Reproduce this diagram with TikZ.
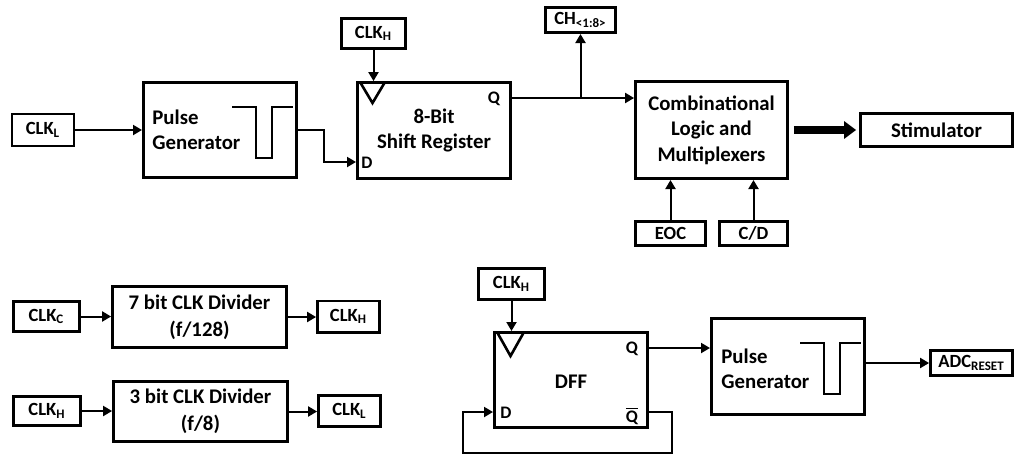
\documentclass[tikz,border=0pt]{standalone}
\usepackage{fontspec}
\setmainfont{Carlito}
\usetikzlibrary{arrows.meta,calc}
\newcommand{\clksub}[1]{CLK\textsubscript{#1}}
\begin{document}
\begin{tikzpicture}[x=0.5pt,y=-0.5pt,
  box/.style={draw, line width=1.4pt, inner sep=0pt, align=center,
    font=\bfseries\fontsize{10.4}{12.8}\selectfont},
  sbox/.style={box, font=\bfseries\fontsize{9.3}{11}\selectfont},
  txt/.style={inner sep=0pt, align=left, font=\bfseries\fontsize{10.4}{12.6}\selectfont},
  pinlbl/.style={inner sep=0pt, font=\bfseries\fontsize{8.8}{9}\selectfont},
  conn/.style={line width=1pt, -{Triangle[length=4.5pt,width=5pt]}},
  wire/.style={line width=1pt},
  wave/.style={line width=1.3pt},
  clktri/.style={line width=1.3pt},
  bigarrow/.style={line width=4pt, -{Triangle[length=6pt,width=8.5pt]}},
  pulsewave/.pic={\draw[wave] (-66,26) -- (-42,26) -- (-42,77) -- (-26,77) -- (-26,26) -- (-5,26);}
]
\useasboundingbox (0,0) rectangle (1016,456);

% ---------- top chain ----------
\node[sbox, minimum width=31pt, minimum height=16pt] (clkL) at (43,130) {\clksub{L}};
\node[box, minimum width=76.6pt, minimum height=47.6pt] (pg1) at (220,130) {};
\node[txt, anchor=west] (pg1t) at ([xshift=5pt]pg1.west) {Pulse\\Generator};
\pic at (pg1.north east) {pulsewave};

\node[sbox, minimum width=32pt, minimum height=15pt] (clkHa) at (373.5,33.5) {\clksub{H}};
\node[box, minimum width=76.6pt, minimum height=48pt] (sr) at (434,130.5) {8-Bit\\Shift Register};
\draw[clktri] (360,82) -- (372.5,103) -- (385,82);
\node[pinlbl] (srQl) at (494,99) {Q};
\node[pinlbl] (srDl) at (367,163) {D};

\node[sbox, minimum width=35pt, minimum height=12.6pt] (ch) at (580.5,20) {CH\textsubscript{<1:8>}};
\node[box, minimum width=76pt, minimum height=48.6pt] (comb) at (711.5,130) {Combinational\\Logic and\\Multiplexers};
\node[box, minimum width=76pt, minimum height=16.6pt] (stim) at (936.5,130) {Stimulator};
\node[sbox, minimum width=35pt, minimum height=12.1pt] (eoc) at (670.5,233.5) {EOC};
\node[sbox, minimum width=34pt, minimum height=12.1pt] (cd) at (753.5,233.5) {C/D};

\coordinate (srD) at (356,162);
\coordinate (srQ) at (512,98);

\draw[conn] (clkL.east) -- (clkL.east -| pg1.west);
\draw[conn] (pg1.east) -- ++(26,0) |- (srD);
\draw[conn] (clkHa.south) -- (clkHa.south |- sr.north);
\draw[conn] (srQ) -- (srQ -| comb.west);
\draw[conn] (srQ -| ch.south) -- (ch.south);
\draw[conn] (eoc.north) -- (eoc.north |- comb.south);
\draw[conn] (cd.north) -- (cd.north |- comb.south);
\draw[bigarrow] ([xshift=2.5pt]comb.east) -- ([xshift=-1.5pt]comb.east -| stim.west);

% ---------- clock dividers ----------
\node[sbox, minimum width=33pt, minimum height=15pt] (clkC) at (46.5,316.5) {\clksub{C}};
\node[box, minimum width=87pt, minimum height=30.6pt, font=\bfseries\fontsize{10.4}{13.4}\selectfont] (div7) at (199.5,317) {7 bit CLK Divider\\(f/128)};
\node[sbox, minimum width=31pt, minimum height=15.6pt] (clkHb) at (348.5,316.5) {\clksub{H}};
\draw[conn] (clkC.east) -- (clkC.east -| div7.west);
\draw[conn] (div7.east) -- (div7.east -| clkHb.west);

\node[sbox, minimum width=33.6pt, minimum height=14.6pt] (clkHc) at (47,411) {\clksub{H}};
\node[box, minimum width=87pt, minimum height=30pt, font=\bfseries\fontsize{10.4}{13.4}\selectfont] (div3) at (200.5,411.5) {3 bit CLK Divider\\(f/8)};
\node[sbox, minimum width=31pt, minimum height=15.6pt] (clkL2) at (349.5,411) {\clksub{L}};
\draw[conn] (clkHc.east) -- (clkHc.east -| div3.west);
\draw[conn] (div3.east) -- (div3.east -| clkL2.west);

% ---------- DFF chain ----------
\node[sbox, minimum width=33pt, minimum height=15.6pt] (clkHd) at (511.5,284) {\clksub{H}};
\node[box, minimum width=76.6pt, minimum height=47.6pt] (dff) at (571,380) {};
\node[txt, align=center] (dfft) at (571,382) {DFF};
\draw[clktri] (497,332) -- (510.5,356) -- (524,332);
\node[pinlbl] (dffQl) at (632,349) {Q};
\node[pinlbl] (dffDl) at (506,413) {D};
\node[pinlbl] (dffQbl) at (632,416) {$\overline{\hbox{Q}}$};

\node[box, minimum width=76.6pt, minimum height=48pt] (pg2) at (788,366.5) {};
\node[txt, anchor=west] (pg2t) at ([xshift=5.5pt,yshift=-1pt]pg2.west) {Pulse\\Generator};
\pic at (pg2.north east) {pulsewave};
\node[sbox, minimum width=41pt, minimum height=12.6pt] (adc) at (971.5,363) {ADC\textsubscript{RESET}};

\coordinate (dffQ) at (649,348);
\coordinate (dffQb) at (649,412);
\coordinate (dffD) at (493,412);

\draw[conn] (clkHd.south) -- (clkHd.south |- dff.north);
\draw[conn] (dffQ) -- (dffQ -| pg2.west);
\draw[conn] (dffQb) -- ++(23,0) |- ++(-209,41) |- (dffD);
\draw[conn] (adc.west -| pg2.east) -- (adc.west);
\end{tikzpicture}
\end{document}
